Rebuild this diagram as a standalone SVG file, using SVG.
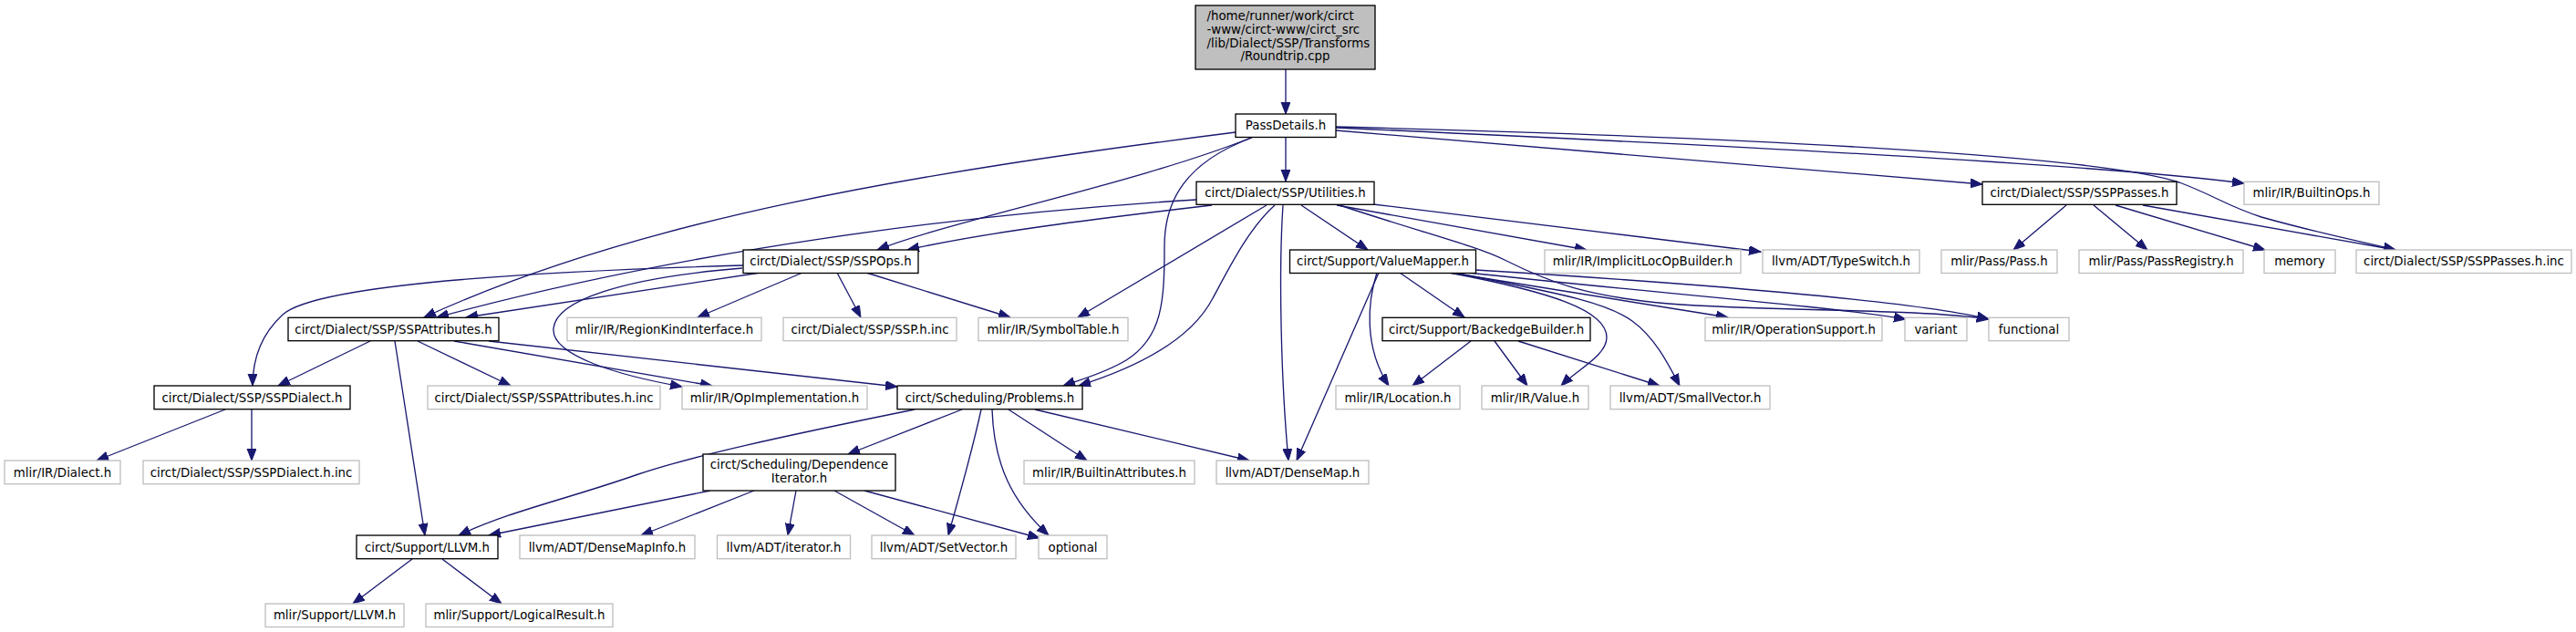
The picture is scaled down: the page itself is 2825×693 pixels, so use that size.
<svg xmlns="http://www.w3.org/2000/svg" width="2825" height="693" viewBox="0 0 2825 693">
<defs>
<marker id="a" markerUnits="userSpaceOnUse" markerWidth="14" markerHeight="11" refX="13" refY="5" orient="auto"><path d="M0,0 L13,5 L0,10 z" fill="#191970" stroke="#191970" stroke-width="1"/></marker>
<style>
.n rect{fill:#fff;stroke:#000;stroke-width:1.33}
.x rect{fill:#fff;stroke:#bfbfbf;stroke-width:1.33}
.r rect{fill:#bfbfbf;stroke:#000;stroke-width:1.33}
text{font-family:"DejaVu Sans","Liberation Sans",sans-serif;font-size:13.33px;text-anchor:middle;fill:#000}
.r text.l{text-anchor:start}
#edges path{fill:none;stroke:#191970;stroke-width:1.33;marker-end:url(#a)}
</style>
</defs>
<rect width="2825" height="693" fill="#fff"/>
<g id="edges">
<path d="M1410,76 L1410,125"/>
<path d="M1410,150 L1410,199"/>
<path d="M1372,151 C1250,200 1050,240 962,274"/>
<path d="M1355,145 C1000,190 700,240 465,348"/>
<path d="M1373,151 C1300,178 1277,220 1277,270 C1277,330 1275,370 1235,395 C1210,410 1185,416 1166,423"/>
<path d="M1465,143 L2174,202"/>
<path d="M1465,140 C1900,160 2300,180 2461,201"/>
<path d="M1465,139 C1900,150 2300,170 2390,200 C2430,215 2440,225 2480,238 C2540,255 2590,265 2627,274"/>
<path d="M1398,225 C1370,250 1350,290 1330,327 C1305,375 1240,405 1183,423"/>
<path d="M1389,225 L1182,348"/>
<path d="M1407,225 C1402,300 1405,420 1413,505"/>
<path d="M1427,225 L1500,274"/>
<path d="M1312,219 C1050,235 750,275 479,348"/>
<path d="M1329,225 C1200,240 1080,255 995,274"/>
<path d="M1466,225 L1740,274"/>
<path d="M1506,224 L1931,276"/>
<path d="M1469,225 C1560,255 1620,270 1650,285 C1700,310 1740,325 1830,333 C1950,342 2100,338 2181,350"/>
<path d="M1512,299 L1422,505"/>
<path d="M1510,299 C1500,330 1495,380 1523,423"/>
<path d="M1590,299 L1895,348"/>
<path d="M1610,299 C1800,320 2000,335 2090,350"/>
<path d="M1618,296 C1850,310 2100,330 2181,350"/>
<path d="M1589,299 C1700,320 1762,340 1762,370 C1762,390 1730,405 1712,423"/>
<path d="M1595,299 C1700,320 1760,330 1790,352 C1815,370 1830,400 1842,423"/>
<path d="M1535,299 L1606,348"/>
<path d="M1613,374 L1549,423"/>
<path d="M1639,374 L1675,423"/>
<path d="M1665,374 L1820,423"/>
<path d="M2266,225 L2208,274"/>
<path d="M2296,225 L2355,274"/>
<path d="M2320,225 L2484,274"/>
<path d="M2350,225 L2627,274"/>
<path d="M834,299 L511,348"/>
<path d="M815,291 C500,300 340,318 310,345 C285,368 277,395 277,423"/>
<path d="M814,294 C680,305 610,330 607,360 C604,390 680,412 748,424"/>
<path d="M880,299 L765,348"/>
<path d="M918,299 L944,348"/>
<path d="M950,299 L1108,348"/>
<path d="M406,374 L305,423"/>
<path d="M433,374 L466,587"/>
<path d="M458,374 L560,423"/>
<path d="M498,374 L781,423"/>
<path d="M536,374 L984,424"/>
<path d="M247,449 L106,505"/>
<path d="M276,449 L276,505"/>
<path d="M1003,449 C850,480 760,500 700,520 C620,548 560,560 503,587"/>
<path d="M1055,449 L930,498"/>
<path d="M1076,449 C1065,500 1050,550 1040,587"/>
<path d="M1088,449 C1090,510 1110,550 1150,587"/>
<path d="M1106,449 L1192,505"/>
<path d="M1135,449 L1370,505"/>
<path d="M779,538 L536,587"/>
<path d="M827,538 L703,587"/>
<path d="M873,538 L864,587"/>
<path d="M915,538 L1003,587"/>
<path d="M948,538 L1140,590"/>
<path d="M452,613 L387,662"/>
<path d="M485,613 L550,662"/>
</g>
<g id="root" class="r"><rect x="1311" y="6" width="197" height="70"/><text class="l" x="1323.5" y="22">/home/runner/work/circt</text><text class="l" x="1323.5" y="37">-www/circt-www/circt_src</text><text class="l" x="1323.5" y="51.5">/lib/Dialect/SSP/Transforms</text><text x="1409.5" y="66">/Roundtrip.cpp</text></g>
<g id="passdetails" class="n"><rect x="1355" y="125" width="110" height="25.5"/><text x="1410" y="142.3">PassDetails.h</text></g>
<g id="utilities" class="n"><rect x="1312" y="199.3" width="195" height="25"/><text x="1409.5" y="216.3">circt/Dialect/SSP/Utilities.h</text></g>
<g id="ssppasses" class="n"><rect x="2174" y="199.3" width="213" height="25"/><text x="2280.5" y="216.3">circt/Dialect/SSP/SSPPasses.h</text></g>
<g id="builtinops" class="x"><rect x="2461" y="199.3" width="148" height="25"/><text x="2535" y="216.3">mlir/IR/BuiltinOps.h</text></g>
<g id="sspops" class="n"><rect x="815" y="274" width="192" height="25.5"/><text x="911" y="291.2">circt/Dialect/SSP/SSPOps.h</text></g>
<g id="valuemapper" class="n"><rect x="1414.5" y="274" width="204" height="25.5"/><text x="1516.5" y="291.2">circt/Support/ValueMapper.h</text></g>
<g id="implicitloc" class="x"><rect x="1694" y="274" width="215" height="25.5"/><text x="1801.5" y="291.2">mlir/IR/ImplicitLocOpBuilder.h</text></g>
<g id="typeswitch" class="x"><rect x="1933" y="274" width="172" height="25.5"/><text x="2019" y="291.2">llvm/ADT/TypeSwitch.h</text></g>
<g id="pass" class="x"><rect x="2129" y="274" width="127" height="25.5"/><text x="2192.5" y="291.2">mlir/Pass/Pass.h</text></g>
<g id="passregistry" class="x"><rect x="2280" y="274" width="180" height="25.5"/><text x="2370" y="291.2">mlir/Pass/PassRegistry.h</text></g>
<g id="memory" class="x"><rect x="2483" y="274" width="78" height="25.5"/><text x="2522" y="291.2">memory</text></g>
<g id="ssppassesinc" class="x"><rect x="2584" y="274" width="236" height="25.5"/><text x="2702" y="291.2">circt/Dialect/SSP/SSPPasses.h.inc</text></g>
<g id="sspattributes" class="n"><rect x="316" y="348.3" width="231" height="25.4"/><text x="431.5" y="365.5">circt/Dialect/SSP/SSPAttributes.h</text></g>
<g id="regionkind" class="x"><rect x="622" y="348.3" width="213" height="25.4"/><text x="728.5" y="365.5">mlir/IR/RegionKindInterface.h</text></g>
<g id="ssphinc" class="x"><rect x="859" y="348.3" width="190" height="25.4"/><text x="954" y="365.5">circt/Dialect/SSP/SSP.h.inc</text></g>
<g id="symboltable" class="x"><rect x="1073" y="348.3" width="164" height="25.4"/><text x="1155" y="365.5">mlir/IR/SymbolTable.h</text></g>
<g id="backedge" class="n"><rect x="1516" y="348.3" width="228" height="25.4"/><text x="1630" y="365.5">circt/Support/BackedgeBuilder.h</text></g>
<g id="opsupport" class="x"><rect x="1870" y="348.3" width="194" height="25.4"/><text x="1967" y="365.5">mlir/IR/OperationSupport.h</text></g>
<g id="variant" class="x"><rect x="2089" y="348.3" width="68" height="25.4"/><text x="2123" y="365.5">variant</text></g>
<g id="functional" class="x"><rect x="2181" y="348.3" width="88" height="25.4"/><text x="2225" y="365.5">functional</text></g>
<g id="sspdialect" class="n"><rect x="169" y="423" width="215" height="25.7"/><text x="276.5" y="440.5">circt/Dialect/SSP/SSPDialect.h</text></g>
<g id="sspattrinc" class="x"><rect x="469" y="423" width="255" height="25.7"/><text x="596.5" y="440.5">circt/Dialect/SSP/SSPAttributes.h.inc</text></g>
<g id="opimpl" class="x"><rect x="748" y="423" width="203" height="25.7"/><text x="849.5" y="440.5">mlir/IR/OpImplementation.h</text></g>
<g id="problems" class="n"><rect x="984" y="423" width="203" height="25.7"/><text x="1085.5" y="440.5">circt/Scheduling/Problems.h</text></g>
<g id="location" class="x"><rect x="1465" y="423" width="136" height="25.7"/><text x="1533" y="440.5">mlir/IR/Location.h</text></g>
<g id="value" class="x"><rect x="1625" y="423" width="117" height="25.7"/><text x="1683.5" y="440.5">mlir/IR/Value.h</text></g>
<g id="smallvector" class="x"><rect x="1766" y="423" width="175" height="25.7"/><text x="1853.5" y="440.5">llvm/ADT/SmallVector.h</text></g>
<g id="dialect" class="x"><rect x="5" y="505" width="127" height="25.7"/><text x="68.5" y="522.5">mlir/IR/Dialect.h</text></g>
<g id="sspdialectinc" class="x"><rect x="157" y="505" width="237" height="25.7"/><text x="275.5" y="522.5">circt/Dialect/SSP/SSPDialect.h.inc</text></g>
<g id="dependenceiter" class="n"><rect x="771" y="498" width="211" height="40"/><text x="876.5" y="514">circt/Scheduling/Dependence</text><text x="876.5" y="529">Iterator.h</text></g>
<g id="builtinattrs" class="x"><rect x="1123" y="505" width="187" height="25.7"/><text x="1216.5" y="522.5">mlir/IR/BuiltinAttributes.h</text></g>
<g id="densemap" class="x"><rect x="1334" y="505" width="167" height="25.7"/><text x="1417.5" y="522.5">llvm/ADT/DenseMap.h</text></g>
<g id="circtllvm" class="n"><rect x="391" y="587" width="155" height="25.7"/><text x="468.5" y="604.5">circt/Support/LLVM.h</text></g>
<g id="densemapinfo" class="x"><rect x="570" y="587" width="192" height="25.7"/><text x="666" y="604.5">llvm/ADT/DenseMapInfo.h</text></g>
<g id="iterator" class="x"><rect x="786.5" y="587" width="146" height="25.7"/><text x="859.5" y="604.5">llvm/ADT/iterator.h</text></g>
<g id="setvector" class="x"><rect x="956" y="587" width="158" height="25.7"/><text x="1035" y="604.5">llvm/ADT/SetVector.h</text></g>
<g id="optional" class="x"><rect x="1139" y="587" width="75" height="25.7"/><text x="1176.5" y="604.5">optional</text></g>
<g id="mlirllvm" class="x"><rect x="291" y="662" width="152" height="25.5"/><text x="367" y="679.3">mlir/Support/LLVM.h</text></g>
<g id="logicalresult" class="x"><rect x="467" y="662" width="205" height="25.5"/><text x="569.5" y="679.3">mlir/Support/LogicalResult.h</text></g>
</svg>
